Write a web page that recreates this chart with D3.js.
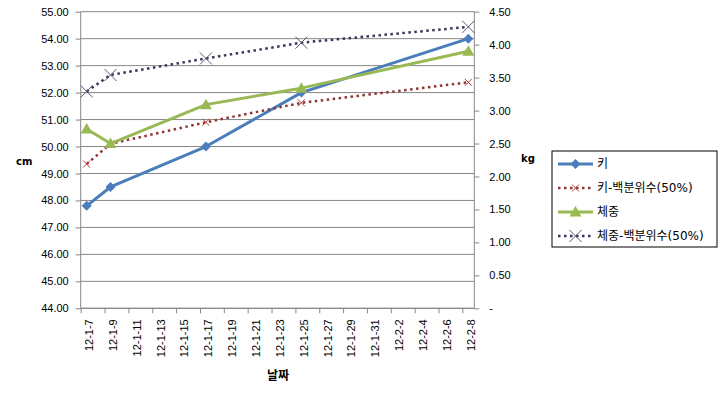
<!DOCTYPE html>
<html>
<head>
<meta charset="utf-8">
<script src="https://cdn.jsdelivr.net/npm/d3@7"></script>
<style>
  body { margin: 0; background: #fff; }
  svg { display: block; font-family: "DejaVu Sans", "Noto Sans CJK KR", sans-serif; }
  .axis path, .axis line { stroke: #868686; }
  .axis text { fill: #000; font-size: 11px; }
</style>
</head>
<body>
<div id="chart"></div>
<script>
// dates of measurement (yy-m-d)
const dates = ["2012-01-07", "2012-01-09", "2012-01-17", "2012-01-25", "2012-02-08"];
const height = [47.8, 48.5, 50.0, 52.0, 54.0];        // 키 (cm)
const heightP50 = [49.35, 50.1, 50.9, 51.62, 52.38];  // 키-백분위수(50%) (cm)
const weight = [2.72, 2.5, 3.09, 3.34, 3.9];          // 체중 (kg)
const weightP50 = [3.29, 3.54, 3.79, 4.03, 4.27];     // 체중-백분위수(50%) (kg)
const leftTicks = [44, 45, 46, 47, 48, 49, 50, 51, 52, 53, 54, 55];
const rightTicks = [0, 0.5, 1, 1.5, 2, 2.5, 3, 3.5, 4, 4.5];

const W = 720, H = 398;
const plotL = 80.7, plotR = 474.3, plotT = 11.7, plotB = 308.3;

const parse = d3.timeParse("%Y-%m-%d");
const fmtDate = d3.timeFormat("%y-%-m-%-d");
const start = parse("2012-01-07"), end = parse("2012-02-09");

const x = d3.scaleTime().domain([start, end]).range([plotL, plotR]);
const yL = d3.scaleLinear().domain([44, 55]).range([plotB, plotT]);
const yR = d3.scaleLinear().domain([0, 4.5]).range([plotB, plotT]);
const dayW = x(d3.timeDay.offset(start, 1)) - x(start);
// points sit in the middle of their day slot
const xc = d => x(d) + dayW / 2;

const svg = d3.select("#chart").append("svg")
    .attr("width", W)
    .attr("height", H);

// gridlines
svg.append("g")
    .selectAll("line")
    .data(leftTicks)
    .join("line")
    .attr("x1", plotL).attr("x2", plotR)
    .attr("y1", d => yL(d)).attr("y2", d => yL(d))
    .attr("stroke", "#868686")
    .attr("stroke-width", 1);

// left axis
const axL = svg.append("g")
    .attr("class", "axis")
    .attr("transform", `translate(${plotL},0)`)
    .call(d3.axisLeft(yL).tickValues(leftTicks).tickSize(5).tickPadding(7).tickFormat(d3.format(".2f")));

// right axis
const axR = svg.append("g")
    .attr("class", "axis")
    .attr("transform", `translate(${plotR},0)`)
    .call(d3.axisRight(yR).tickValues(rightTicks).tickSize(5).tickPadding(10)
        .tickFormat(d => d === 0 ? "-" : d3.format(".2f")(d)));

[axL, axR].forEach(a => a.select(".domain").attr("d", `M0,${plotT}V${plotB}`));

// bottom axis
const xTicks = d3.timeDay.range(start, end, 2);
const axB = svg.append("g")
    .attr("class", "axis")
    .attr("transform", `translate(0,${plotB})`)
    .call(d3.axisBottom(x).tickValues(xTicks).tickSize(5).tickFormat(fmtDate));
axB.select(".domain").attr("d", `M${plotL},0H${plotR}`);
axB.selectAll("text")
    .attr("text-anchor", "end")
    .attr("x", -11)
    .attr("y", 0)
    .attr("dy", "0.35em")
    .attr("transform", `translate(${dayW / 2 + 2},0) rotate(-90)`);

// axis titles
svg.append("text").attr("x", 16).attr("y", 165)
    .attr("font-size", 10).attr("font-weight", "bold").text("cm");
svg.append("text").attr("x", 521).attr("y", 162)
    .attr("font-size", 10).attr("font-weight", "bold").text("kg");
svg.append("text").attr("x", 278).attr("y", 380)
    .attr("text-anchor", "middle")
    .attr("font-family", "'Noto Sans CJK KR', sans-serif")
    .attr("font-size", 12).attr("font-weight", "bold").text("날짜");

const series = [
    { name: "키", values: height, y: yL, color: "#4A7EBB", width: 3, dash: null, marker: "diamond", mcolor: "#4A7EBB" },
    { name: "키-백분위수(50%)", values: heightP50, y: yL, color: "#8E3634", width: 2.5, dash: "2.5,3.5", marker: "x", mcolor: "#B5413E" },
    { name: "체중", values: weight, y: yR, color: "#98B954", width: 3, dash: null, marker: "triangle", mcolor: "#98B954" },
    { name: "체중-백분위수(50%)", values: weightP50, y: yR, color: "#3E3258", width: 2.5, dash: "2.5,3.5", marker: "X", mcolor: "#5E5470" }
];

function drawMarker(g, type, color) {
    if (type === "diamond") {
        g.append("path").attr("d", "M0,-5L5,0L0,5L-5,0Z").attr("fill", color);
    } else if (type === "triangle") {
        g.append("path").attr("d", "M0,-6L6,4.5L-6,4.5Z").attr("fill", color);
    } else if (type === "x") {
        g.append("path").attr("d", "M-3.5,-3.5L3.5,3.5M-3.5,3.5L3.5,-3.5")
            .attr("stroke", color).attr("stroke-width", 1);
    } else {
        g.append("path").attr("d", "M-6,-6L6,6M-6,6L6,-6")
            .attr("stroke", color).attr("stroke-width", 1);
    }
}

const line = s => d3.line()
    .x((d, i) => xc(parse(dates[i])))
    .y(d => s.y(d));

series.forEach(s => {
    const g = svg.append("g");
    g.append("path")
        .attr("d", line(s)(s.values))
        .attr("fill", "none")
        .attr("stroke", s.color)
        .attr("stroke-width", s.width)
        .attr("stroke-dasharray", s.dash)
        .attr("stroke-linejoin", "round");
    s.values.forEach((v, i) => {
        const m = g.append("g").attr("transform", `translate(${xc(parse(dates[i]))},${s.y(v)})`);
        drawMarker(m, s.marker, s.mcolor);
    });
});

// legend
const lg = svg.append("g").attr("transform", "translate(552,151)");
lg.append("rect").attr("width", 165).attr("height", 96)
    .attr("fill", "#fff").attr("stroke", "#000").attr("stroke-width", 1);
series.forEach((s, i) => {
    const yy = 13 + i * 24;
    lg.append("line").attr("x1", 6).attr("x2", 41).attr("y1", yy).attr("y2", yy)
        .attr("stroke", s.color).attr("stroke-width", s.width)
        .attr("stroke-dasharray", s.dash);
    drawMarker(lg.append("g").attr("transform", `translate(23.5,${yy})`), s.marker, s.mcolor);
    lg.append("text").attr("x", 45).attr("y", yy).attr("dy", "0.36em")
        .attr("font-size", 12)
        .text(s.name);
});
</script>
</body>
</html>
